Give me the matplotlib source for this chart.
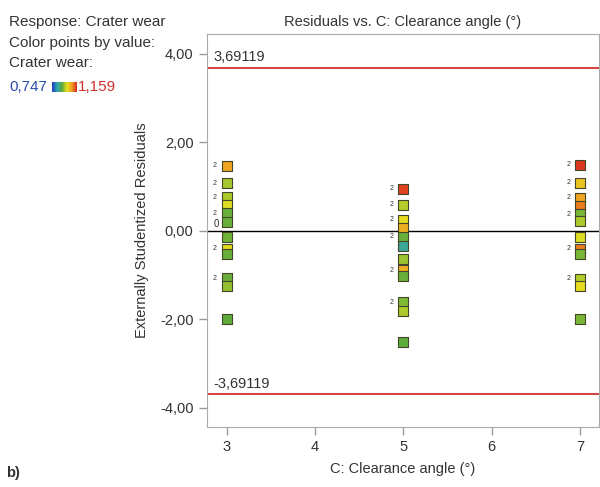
import matplotlib.pyplot as plt
from matplotlib.colors import LinearSegmentedColormap, Normalize
from matplotlib import font_manager
import numpy as np

plt.rcParams['font.family'] = ['Liberation Sans', 'DejaVu Sans']

# run order grouped by clearance angle
angle_3 = [1.47, 1.08, 0.76, 0.585, 0.40, 0.21, -0.14, -0.41, -0.52, -1.07, -1.25, -2.00]
wear_3 = [1.07, 0.955, 0.96, 0.99, 0.92, 0.92, 0.925, 1.00, 0.92, 0.92, 0.945, 0.915]
count_3 = [2, 2, 2, 1, 2, 1, 1, 2, 1, 2, 1, 1]

angle_5 = [0.95, 0.59, 0.25, 0.07, -0.13, -0.34, -0.63, -0.89, -1.03, -1.61, -1.81, -2.51]
wear_5 = [1.14, 0.965, 1.00, 1.06, 0.92, 0.85, 0.95, 1.06, 0.92, 0.935, 0.96, 0.915]
count_5 = [2, 2, 2, 1, 2, 1, 1, 2, 1, 2, 1, 1]

angle_7 = [1.49, 1.09, 0.75, 0.57, 0.38, 0.22, -0.14, -0.41, -0.52, -1.08, -1.25, -2.00]
wear_7 = [1.15, 1.03, 1.07, 1.10, 0.93, 0.96, 0.99, 1.10, 0.93, 0.965, 1.00, 0.93]
count_7 = [2, 2, 2, 1, 2, 1, 1, 2, 1, 2, 1, 1]

limit = 3.69119
wear_min, wear_max = 0.747, 1.159

cmap = LinearSegmentedColormap.from_list(
    'wear', ['#1f3fbf', '#2fa8b0', '#5aaa3c', '#e6e020', '#f0a020', '#d92a20'])
norm = Normalize(wear_min, wear_max)

# narrow face for the info block if available
names = {f.name for f in font_manager.fontManager.ttflist}
if 'Liberation Sans Narrow' in names:
    info_font, info_size = 'Liberation Sans Narrow', 13
else:
    info_font, info_size = 'Liberation Sans', 11

fig = plt.figure(figsize=(6, 4.87), dpi=100)
ax = fig.add_axes([0.3445, 0.1238, 0.6545, 0.8058])

ax.axhline(0, color='black', lw=1.0, zorder=1)
ax.axhline(limit, color='#d64545', lw=1.5, zorder=1)
ax.axhline(-limit, color='#d64545', lw=1.5, zorder=1)
ax.text(2.855, limit + 0.08, '3,69119', fontsize=10.5, color='#333333', va='bottom')
ax.text(2.855, -limit + 0.08, '-3,69119', fontsize=10.5, color='#333333', va='bottom')

for xv, res, wear, cnt in [(3, angle_3, wear_3, count_3),
                           (5, angle_5, wear_5, count_5),
                           (7, angle_7, wear_7, count_7)]:
    ax.scatter(np.full(len(res), xv), res, c=cmap(norm(np.array(wear))), marker='s',
               s=52, edgecolors='#45452a', linewidths=0.8, zorder=3)
    for r, n in zip(res, cnt):
        if n > 1:
            ax.text(xv - 0.11, r, str(n), fontsize=5, ha='right', va='center',
                    color='#333333')

ax.text(2.91, 0.16, '0', fontsize=7, ha='right', va='center', color='#333333')

ax.set_xlim(2.775, 7.22)
ax.set_ylim(-4.43, 4.445)
ax.set_xticks([3, 4, 5, 6, 7])
ax.set_yticks([-4, -2, 0, 2, 4])
ax.set_yticklabels(['-4,00', '-2,00', '0,00', '2,00', '4,00'])
ax.tick_params(direction='out', length=6, width=1, color='#999999',
               labelsize=10.5, labelcolor='#333333')
for sp in ax.spines.values():
    sp.set_color('#aaaaaa')

ax.set_title('Residuals vs. C: Clearance angle (°)', fontsize=10.5,
             color='#333333', pad=6)
ax.set_xlabel('C: Clearance angle (°)', fontsize=10.5, color='#333333', labelpad=6)
ax.set_ylabel('Externally Studentized Residuals', fontsize=10.5, color='#333333',
              labelpad=8)

# response info block
info = dict(fontsize=info_size, family=info_font, va='center')
fig.text(0.015, 0.955, 'Response: Crater wear', color='#333333', **info)
fig.text(0.015, 0.912, 'Color points by value:', color='#333333', **info)
fig.text(0.015, 0.871, 'Crater wear:', color='#333333', **info)
fig.text(0.015, 0.821, '0,747', color='#2a4aa8', **info)
fig.text(0.13, 0.821, '1,159', color='#d03030', **info)
cax = fig.add_axes([0.0867, 0.812, 0.04, 0.019])
cax.imshow(np.linspace(0, 1, 64).reshape(1, -1), aspect='auto', cmap=cmap)
cax.axis('off')

fig.text(0.01, 0.02, 'b)', fontsize=10.5, fontweight='bold', color='#333333')

fig.savefig('out.png', dpi=100)
